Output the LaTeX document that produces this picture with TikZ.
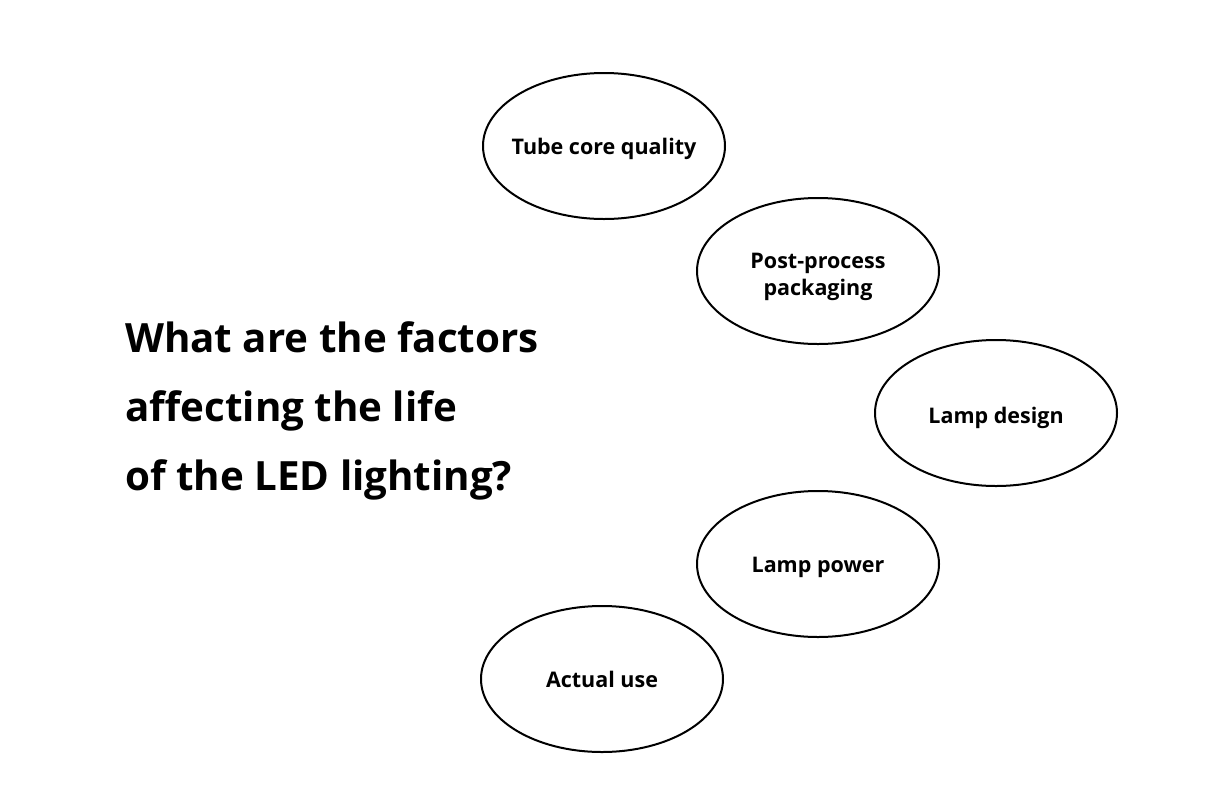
\documentclass[tikz,border=0pt]{standalone}
\usepackage{fontspec}
\setmainfont{Open Sans}
\usetikzlibrary{shapes.geometric}
\newcommand\factortext[2]{\raisebox{#1}[0pt][0pt]{\makebox[0pt]{\begin{tabular}[b]{@{}c@{}}#2\end{tabular}}}}
\begin{document}
\begin{tikzpicture}[x=1pt,y=-1pt,
  factor/.style={ellipse,draw=black,line width=2pt,minimum width=242pt,minimum height=146pt,inner sep=0pt,font=\fontsize{21.5}{27}\selectfont\bfseries},
  titleline/.style={anchor=base west,inner sep=0pt,font=\fontsize{40.3}{50}\selectfont\bfseries}]
\useasboundingbox (0,0) rectangle (1213,809);
\node[factor] (tube) at (604,146) {\factortext{-8pt}{Tube core quality}};
\node[factor] (post) at (818,271) {\factortext{-24pt}{Post-process\\packaging}};
\node[factor] (design) at (996,413) {\factortext{-10.5pt}{Lamp design}};
\node[factor] (power) at (818,564) {\factortext{-8.5pt}{Lamp power}};
\node[factor] (use) at (602,679) {\factortext{-8.5pt}{Actual use}};
\node[titleline] (t1) at (125,352) {What are the factors};
\node[titleline] (t2) at (125,421) {affecting the life};
\node[titleline] (t3) at (125,490) {of the LED lighting?};
\end{tikzpicture}
\end{document}
